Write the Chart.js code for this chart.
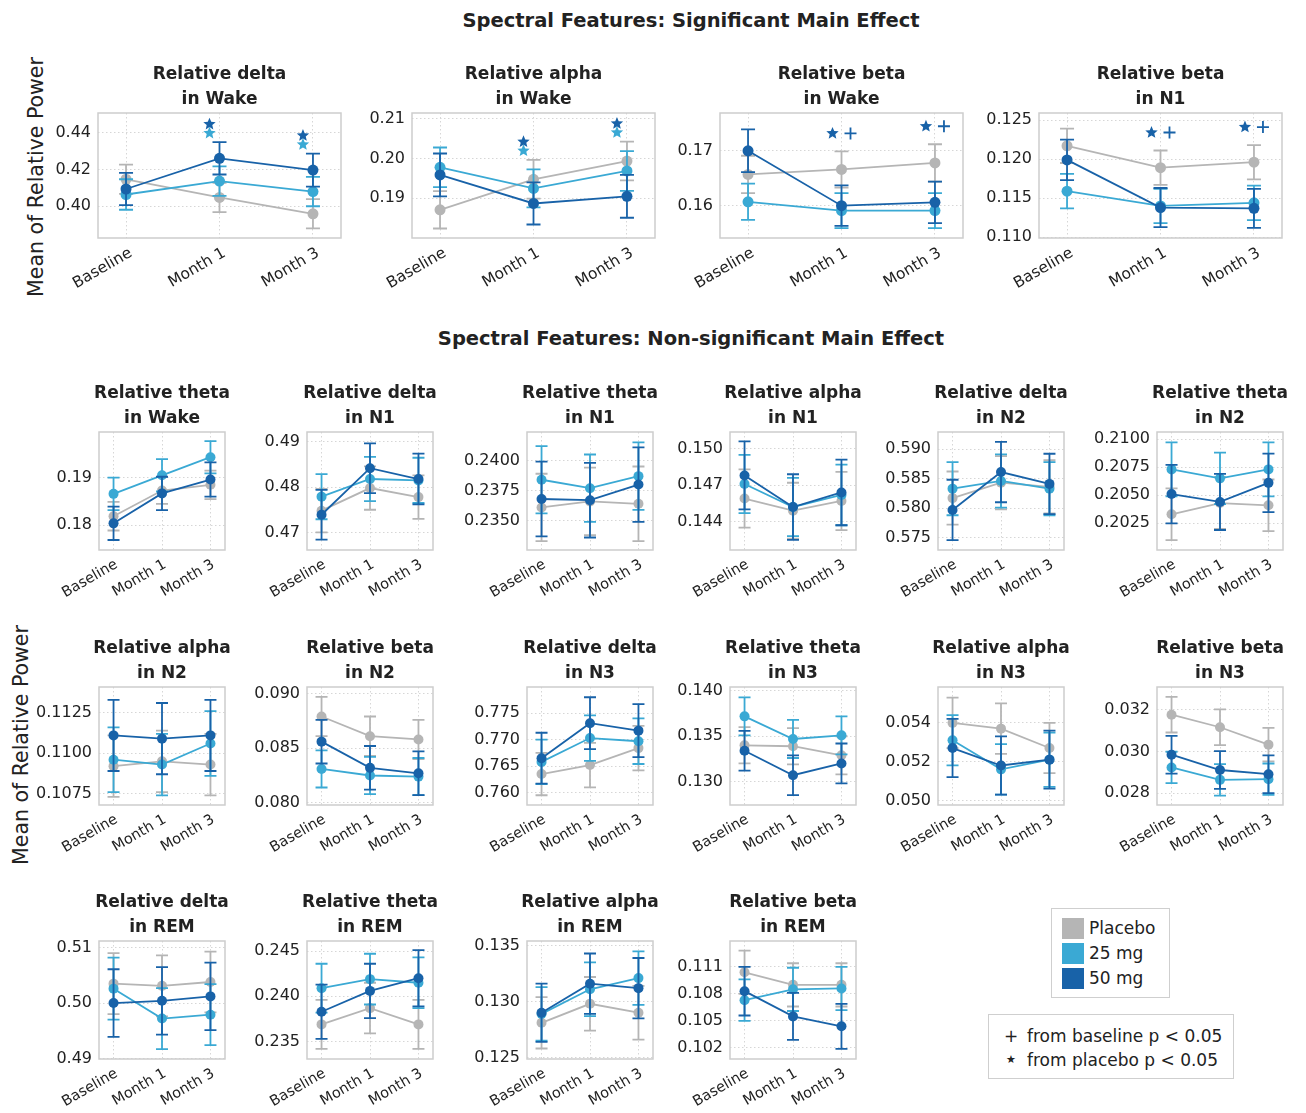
<!DOCTYPE html>
<html>
<head>
<meta charset="utf-8">
<title>Spectral Features</title>
<script src="https://cdn.jsdelivr.net/npm/chart.js@4.4.1/dist/chart.umd.min.js"></script>
<style>
  body { margin: 0; background: #fff; width: 1306px; height: 1113px; position: relative; overflow: hidden;
         font-family: 'DejaVu Sans', sans-serif; color: #222; }
  .heading { position: absolute; font-weight: 700; font-size: 19.5px; white-space: nowrap; transform: translate(-50%, -50%); }
  .ylab { position: absolute; font-size: 20.5px; white-space: nowrap; transform: translate(-50%, -50%) rotate(-90deg); }
  .box { position: absolute; border: 1px solid #cfcfcf; background: #fff; box-sizing: border-box; }
  .row { position: absolute; left: 0; font-size: 17px; white-space: nowrap; line-height: 22px; }
  .sw { position: absolute; width: 22px; height: 21px; }
</style>
</head>
<body>
<div class="heading" style="left:691px;top:20px">Spectral Features: Significant Main Effect</div>
<div class="heading" style="left:691px;top:338px">Spectral Features: Non-significant Main Effect</div>
<div class="ylab" style="left:36px;top:177px">Mean of Relative Power</div>
<div class="ylab" style="left:21px;top:745px">Mean of Relative Power</div>

<script>
// ---- categories and groups ----
const timepoints = ['Baseline', 'Month 1', 'Month 3'];
const groups = ['Placebo', '25 mg', '50 mg'];
const groupColors = ['#b5b5b5', '#3aa9d4', '#1862a8'];

// ---- significant main effect ----
// means / SEM per group (rows: Placebo, 25 mg, 50 mg; columns: Baseline, Month 1, Month 3)
const wakeDeltaMean = [[0.4146, 0.4047, 0.3958], [0.4063, 0.4136, 0.4079], [0.4093, 0.4260, 0.4196]];
const wakeDeltaSem  = [[0.0080, 0.0080, 0.0080], [0.0083, 0.0080, 0.0080], [0.0088, 0.0088, 0.0090]];
const wakeDeltaTicks = ['0.40', '0.42', '0.44'];
const wakeDeltaRange = [0.3826, 0.4507];
const wakeDeltaSig = [[], [[['*', 2]], [['*', 1]]], [[['*', 2]], [['*', 1]]]];

const wakeAlphaMean = [[0.1871, 0.1948, 0.1994], [0.1978, 0.1925, 0.1969], [0.1959, 0.1887, 0.1905]];
const wakeAlphaSem  = [[0.0047, 0.0049, 0.0049], [0.0050, 0.0048, 0.0050], [0.0054, 0.0053, 0.0054]];
const wakeAlphaTicks = ['0.19', '0.20', '0.21'];
const wakeAlphaRange = [0.1800, 0.2115];
const wakeAlphaSig = [[], [[['*', 2]], [['*', 1]]], [[['*', 2]], [['*', 1]]]];

const wakeBetaMean = [[0.1657, 0.1666, 0.1678], [0.1607, 0.1591, 0.1591], [0.1700, 0.1600, 0.1606]];
const wakeBetaSem  = [[0.0034, 0.0033, 0.0034], [0.0033, 0.0032, 0.0032], [0.0039, 0.0037, 0.0038]];
const wakeBetaTicks = ['0.16', '0.17'];
const wakeBetaRange = [0.1541, 0.1769];
const wakeBetaSig = [[], [[['*', 2], ['+', 2]]], [[['*', 2], ['+', 2]]]];

const n1BetaMean = [[0.1217, 0.1189, 0.1196], [0.1159, 0.1140, 0.1144], [0.1199, 0.1138, 0.1137]];
const n1BetaSem  = [[0.0022, 0.0022, 0.0022], [0.0022, 0.0022, 0.0022], [0.0026, 0.0025, 0.0025]];
const n1BetaTicks = ['0.110', '0.115', '0.120', '0.125'];
const n1BetaRange = [0.1099, 0.1259];
const n1BetaSig = [[], [[['*', 2], ['+', 2]]], [[['*', 2], ['+', 2]]]];

// ---- non-significant main effect ----
const wakeThetaMean = [[0.1819, 0.1873, 0.1885], [0.1866, 0.1905, 0.1943], [0.1804, 0.1867, 0.1896]];
const wakeThetaSem  = [[0.0030, 0.0028, 0.0030], [0.0034, 0.0034, 0.0034], [0.0035, 0.0035, 0.0036]];
const wakeThetaTicks = ['0.18', '0.19'];
const wakeThetaRange = [0.1748, 0.1996];

const n1DeltaMean = [[0.4748, 0.4798, 0.4778], [0.4779, 0.4818, 0.4815], [0.4739, 0.4842, 0.4818]];
const n1DeltaSem  = [[0.0048, 0.0048, 0.0048], [0.0050, 0.0049, 0.0050], [0.0055, 0.0055, 0.0056]];
const n1DeltaTicks = ['0.47', '0.48', '0.49'];
const n1DeltaRange = [0.4661, 0.4922];

const n1ThetaMean = [[0.2361, 0.2366, 0.2364], [0.2384, 0.2377, 0.2387], [0.2368, 0.2367, 0.2380]];
const n1ThetaSem  = [[0.0028, 0.0028, 0.0031], [0.0028, 0.0028, 0.0028], [0.0031, 0.0031, 0.0031]];
const n1ThetaTicks = ['0.2350', '0.2375', '0.2400'];
const n1ThetaRange = [0.23256, 0.24237];

const n1AlphaMean = [[0.1459, 0.1449, 0.1457], [0.1471, 0.1452, 0.1462], [0.1478, 0.1452, 0.1464]];
const n1AlphaSem  = [[0.0024, 0.0023, 0.0024], [0.0024, 0.0024, 0.0025], [0.0028, 0.0027, 0.0027]];
const n1AlphaTicks = ['0.144', '0.147', '0.150'];
const n1AlphaRange = [0.14166, 0.15138];

const n2DeltaMean = [[0.5817, 0.5843, 0.5836], [0.5833, 0.5846, 0.5833], [0.5797, 0.5861, 0.5841]];
const n2DeltaSem  = [[0.0045, 0.0045, 0.0045], [0.0045, 0.0045, 0.0045], [0.0051, 0.0051, 0.0051]];
const n2DeltaTicks = ['0.575', '0.580', '0.585', '0.590'];
const n2DeltaRange = [0.57292, 0.59288];

const n2ThetaMean = [[0.2033, 0.2043, 0.2041], [0.2073, 0.2065, 0.2073], [0.2051, 0.2044, 0.2061]];
const n2ThetaSem  = [[0.0023, 0.0023, 0.0023], [0.0024, 0.0023, 0.0024], [0.0026, 0.0025, 0.0026]];
const n2ThetaTicks = ['0.2025', '0.2050', '0.2075', '0.2100'];
const n2ThetaRange = [0.20012, 0.21063];

const n2AlphaMean = [[0.1092, 0.1095, 0.1093], [0.1096, 0.1093, 0.1106], [0.1111, 0.1109, 0.1111]];
const n2AlphaSem  = [[0.0019, 0.0019, 0.0019], [0.0020, 0.0019, 0.0020], [0.0022, 0.0022, 0.0022]];
const n2AlphaTicks = ['0.1075', '0.1100', '0.1125'];
const n2AlphaRange = [0.1068, 0.11409];

const n2BetaMean = [[0.0879, 0.0861, 0.0858], [0.0831, 0.0825, 0.0824], [0.0856, 0.0832, 0.0827]];
const n2BetaSem  = [[0.0018, 0.0018, 0.0018], [0.0017, 0.0017, 0.0017], [0.0020, 0.0020, 0.0020]];
const n2BetaTicks = ['0.080', '0.085', '0.090'];
const n2BetaRange = [0.0798, 0.0906];

const n3DeltaMean = [[0.7635, 0.7652, 0.7684], [0.7658, 0.7703, 0.7697], [0.7665, 0.7731, 0.7717]];
const n3DeltaSem  = [[0.0040, 0.0042, 0.0042], [0.0042, 0.0043, 0.0043], [0.0048, 0.0049, 0.0050]];
const n3DeltaTicks = ['0.760', '0.765', '0.770', '0.775'];
const n3DeltaRange = [0.75766, 0.77994];

const n3ThetaMean = [[0.1340, 0.1339, 0.1329], [0.1372, 0.1347, 0.1351], [0.1334, 0.1307, 0.1320]];
const n3ThetaSem  = [[0.0020, 0.0020, 0.0021], [0.0021, 0.0021, 0.0021], [0.0022, 0.0022, 0.0022]];
const n3ThetaTicks = ['0.130', '0.135', '0.140'];
const n3ThetaRange = [0.12741, 0.14044];

const n3AlphaMean = [[0.0540, 0.0537, 0.0527], [0.0531, 0.0516, 0.0521], [0.0527, 0.0518, 0.0521]];
const n3AlphaSem  = [[0.0013, 0.0013, 0.0013], [0.0013, 0.0013, 0.0014], [0.0015, 0.0015, 0.0015]];
const n3AlphaTicks = ['0.050', '0.052', '0.054'];
const n3AlphaRange = [0.04976, 0.05585];

const n3BetaMean = [[0.03175, 0.03115, 0.03032], [0.02923, 0.02864, 0.02867], [0.02984, 0.02911, 0.02891]];
const n3BetaSem  = [[0.00085, 0.00085, 0.00080], [0.00075, 0.00075, 0.00075], [0.00090, 0.00090, 0.00090]];
const n3BetaTicks = ['0.028', '0.030', '0.032'];
const n3BetaRange = [0.02744, 0.03307];

const remDeltaMean = [[0.5035, 0.5031, 0.5038], [0.5026, 0.4972, 0.4979], [0.5000, 0.5004, 0.5012]];
const remDeltaSem  = [[0.0055, 0.0055, 0.0055], [0.0056, 0.0055, 0.0055], [0.0061, 0.0061, 0.0061]];
const remDeltaTicks = ['0.49', '0.50', '0.51'];
const remDeltaRange = [0.4899, 0.5112];

const remThetaMean = [[0.2369, 0.2387, 0.2369], [0.2409, 0.2419, 0.2415], [0.2383, 0.2406, 0.2420]];
const remThetaSem  = [[0.0027, 0.0028, 0.0027], [0.0027, 0.0028, 0.0028], [0.0030, 0.0030, 0.0031]];
const remThetaTicks = ['0.235', '0.240', '0.245'];
const remThetaRange = [0.23308, 0.24611];

const remAlphaMean = [[0.1281, 0.1298, 0.1290], [0.1289, 0.1311, 0.1321], [0.1290, 0.1316, 0.1312]];
const remAlphaSem  = [[0.0023, 0.0024, 0.0024], [0.0024, 0.0024, 0.0024], [0.0026, 0.0027, 0.0027]];
const remAlphaTicks = ['0.125', '0.130', '0.135'];
const remAlphaRange = [0.12486, 0.13542];

const remBetaMean = [[0.1104, 0.1090, 0.1090], [0.1073, 0.1085, 0.1086], [0.1083, 0.1055, 0.1044]];
const remBetaSem  = [[0.0024, 0.0024, 0.0024], [0.0023, 0.0024, 0.0024], [0.0027, 0.0026, 0.0025]];
const remBetaTicks = ['0.102', '0.105', '0.108', '0.111'];
const remBetaRange = [0.10077, 0.11387];

// ---- panel list ----
const topPanels = [
  { title: ['Relative delta', 'in Wake'], mean: wakeDeltaMean, sem: wakeDeltaSem, ticks: wakeDeltaTicks, range: wakeDeltaRange, sig: wakeDeltaSig },
  { title: ['Relative alpha', 'in Wake'], mean: wakeAlphaMean, sem: wakeAlphaSem, ticks: wakeAlphaTicks, range: wakeAlphaRange, sig: wakeAlphaSig },
  { title: ['Relative beta', 'in Wake'],  mean: wakeBetaMean,  sem: wakeBetaSem,  ticks: wakeBetaTicks,  range: wakeBetaRange,  sig: wakeBetaSig },
  { title: ['Relative beta', 'in N1'],    mean: n1BetaMean,    sem: n1BetaSem,    ticks: n1BetaTicks,    range: n1BetaRange,    sig: n1BetaSig }
];
const gridPanels = [
  { title: ['Relative theta', 'in Wake'], mean: wakeThetaMean, sem: wakeThetaSem, ticks: wakeThetaTicks, range: wakeThetaRange },
  { title: ['Relative delta', 'in N1'],   mean: n1DeltaMean,   sem: n1DeltaSem,   ticks: n1DeltaTicks,   range: n1DeltaRange },
  { title: ['Relative theta', 'in N1'],   mean: n1ThetaMean,   sem: n1ThetaSem,   ticks: n1ThetaTicks,   range: n1ThetaRange },
  { title: ['Relative alpha', 'in N1'],   mean: n1AlphaMean,   sem: n1AlphaSem,   ticks: n1AlphaTicks,   range: n1AlphaRange },
  { title: ['Relative delta', 'in N2'],   mean: n2DeltaMean,   sem: n2DeltaSem,   ticks: n2DeltaTicks,   range: n2DeltaRange },
  { title: ['Relative theta', 'in N2'],   mean: n2ThetaMean,   sem: n2ThetaSem,   ticks: n2ThetaTicks,   range: n2ThetaRange },
  { title: ['Relative alpha', 'in N2'],   mean: n2AlphaMean,   sem: n2AlphaSem,   ticks: n2AlphaTicks,   range: n2AlphaRange },
  { title: ['Relative beta', 'in N2'],    mean: n2BetaMean,    sem: n2BetaSem,    ticks: n2BetaTicks,    range: n2BetaRange },
  { title: ['Relative delta', 'in N3'],   mean: n3DeltaMean,   sem: n3DeltaSem,   ticks: n3DeltaTicks,   range: n3DeltaRange },
  { title: ['Relative theta', 'in N3'],   mean: n3ThetaMean,   sem: n3ThetaSem,   ticks: n3ThetaTicks,   range: n3ThetaRange },
  { title: ['Relative alpha', 'in N3'],   mean: n3AlphaMean,   sem: n3AlphaSem,   ticks: n3AlphaTicks,   range: n3AlphaRange },
  { title: ['Relative beta', 'in N3'],    mean: n3BetaMean,    sem: n3BetaSem,    ticks: n3BetaTicks,    range: n3BetaRange },
  { title: ['Relative delta', 'in REM'],  mean: remDeltaMean,  sem: remDeltaSem,  ticks: remDeltaTicks,  range: remDeltaRange },
  { title: ['Relative theta', 'in REM'],  mean: remThetaMean,  sem: remThetaSem,  ticks: remThetaTicks,  range: remThetaRange },
  { title: ['Relative alpha', 'in REM'],  mean: remAlphaMean,  sem: remAlphaSem,  ticks: remAlphaTicks,  range: remAlphaRange },
  { title: ['Relative beta', 'in REM'],   mean: remBetaMean,   sem: remBetaSem,   ticks: remBetaTicks,   range: remBetaRange }
];

// ---- layout (plot-area positions in page pixels) ----
const topLefts = [98, 412, 720, 1039];
const topTop = 113, topSize = [243, 125];
const gridLefts = [98.5, 306.7, 526.7, 729.7, 938.3, 1157];
const gridTops = [432.3, 686.7, 941];
const gridSize = [126, 117.5];

const FONT = "'DejaVu Sans', sans-serif";
Chart.defaults.font.family = FONT;
Chart.defaults.color = '#222';

// plot frame on all four sides
const framePlugin = {
  id: 'frame',
  beforeDatasetsDraw(chart) {
    const { ctx, chartArea: a } = chart;
    ctx.save();
    ctx.strokeStyle = '#cdcdcd';
    ctx.lineWidth = 1.5;
    ctx.strokeRect(a.left, a.top, a.right - a.left, a.bottom - a.top);
    ctx.restore();
  }
};

// vertical SEM bars with caps, drawn under each group's line
const errorBarPlugin = {
  id: 'errorBars',
  beforeDatasetDraw(chart, args) {
    const ds = chart.data.datasets[args.index];
    const { ctx } = chart;
    const xs = chart.scales.x, ys = chart.scales.y;
    const cap = chart.options.plugins.errorBars.cap;
    ctx.save();
    ctx.strokeStyle = ds.borderColor;
    ctx.lineWidth = 1.8;
    ds.data.forEach((p, i) => {
      const x = xs.getPixelForValue(p.x);
      const yt = ys.getPixelForValue(p.y + ds.sem[i]);
      const yb = ys.getPixelForValue(p.y - ds.sem[i]);
      ctx.beginPath();
      ctx.moveTo(x, yt); ctx.lineTo(x, yb);
      ctx.moveTo(x - cap, yt); ctx.lineTo(x + cap, yt);
      ctx.moveTo(x - cap, yb); ctx.lineTo(x + cap, yb);
      ctx.stroke();
    });
    ctx.restore();
  }
};

// significance markers above the highest bar of a timepoint
function drawStar(ctx, cx, cy, r) {
  ctx.beginPath();
  for (let k = 0; k < 10; k++) {
    const rad = k % 2 === 0 ? r : r * 0.45;
    const ang = -Math.PI / 2 + k * Math.PI / 5;
    const px = cx + rad * Math.cos(ang), py = cy + rad * Math.sin(ang);
    k === 0 ? ctx.moveTo(px, py) : ctx.lineTo(px, py);
  }
  ctx.closePath();
  ctx.fill();
}
const sigPlugin = {
  id: 'sigMarks',
  afterDatasetsDraw(chart) {
    const sig = chart.options.plugins.sigMarks.marks;
    if (!sig) return;
    const { ctx } = chart;
    const xs = chart.scales.x, ys = chart.scales.y;
    const datasets = chart.data.datasets;
    sig.forEach((lines, t) => {
      if (!lines.length) return;
      let top = Infinity;
      datasets.forEach(ds => { top = Math.min(top, ys.getPixelForValue(ds.data[t].y + ds.sem[t])); });
      const x0 = xs.getPixelForValue(t);
      lines.forEach((line, li) => {
        const y = top - 18 + 9 * li;
        line.forEach(([sym, g], si) => {
          const x = line.length === 1 ? x0 - 10 : x0 - 9 + 18 * si;
          ctx.save();
          ctx.fillStyle = groupColors[g];
          ctx.strokeStyle = groupColors[g];
          if (sym === '*') {
            drawStar(ctx, x, y, 6.5);
          } else {
            ctx.lineWidth = 1.8;
            ctx.beginPath();
            ctx.moveTo(x - 6, y); ctx.lineTo(x + 6, y);
            ctx.moveTo(x, y - 6); ctx.lineTo(x, y + 6);
            ctx.stroke();
          }
          ctx.restore();
        });
      });
    });
  }
};

function makePanel(p, left, top, size, big) {
  const YW = big ? 92 : 82, XH = big ? 72 : 62, TH = 54;
  const [w, h] = size;
  const W = Math.round(w + 2 * YW), H = Math.round(TH + h + XH);
  const cv = document.createElement('canvas');
  cv.width = W; cv.height = H;
  cv.style.cssText = `position:absolute;left:${left - YW}px;top:${top - TH}px;width:${W}px;height:${H}px`;
  document.body.appendChild(cv);
  const tickVals = p.ticks.map(Number);
  const grid = { color: '#d6d6d6', lineWidth: 1, drawTicks: false };
  const border = { display: false, dash: [1.5, 2.5] };
  new Chart(cv, {
    type: 'line',
    data: {
      datasets: groups.map((g, gi) => ({
        label: g,
        data: p.mean[gi].map((v, i) => ({ x: i, y: v })),
        sem: p.sem[gi],
        borderColor: groupColors[gi],
        backgroundColor: groupColors[gi],
        pointBackgroundColor: groupColors[gi],
        pointBorderWidth: 0,
        pointRadius: big ? 5.5 : 5,
        borderWidth: 1.8,
        tension: 0,
        order: 3 - gi
      }))
    },
    options: {
      responsive: false,
      animation: false,
      events: [],
      layout: { padding: 0 },
      plugins: {
        legend: { display: false },
        tooltip: { enabled: false },
        title: {
          display: true, text: p.title, color: '#222',
          font: { family: FONT, size: 17, weight: 'bold', lineHeight: '25px' },
          padding: { top: 3, bottom: 1 }
        },
        errorBars: { cap: big ? 7 : 6 },
        sigMarks: { marks: p.sig || null }
      },
      scales: {
        x: {
          type: 'linear', min: -0.3, max: 2.3,
          afterBuildTicks: s => { s.ticks = timepoints.map((_, i) => ({ value: i })); },
          afterFit: s => { s.height = XH; },
          grid, border,
          ticks: {
            autoSkip: false, minRotation: 30, maxRotation: 30, padding: 6, color: '#222',
            labelOffset: big ? 5 : 3,
            font: { size: big ? 15.5 : 14.5 },
            callback: v => timepoints[Math.round(v)]
          }
        },
        y: {
          min: p.range[0], max: p.range[1],
          afterBuildTicks: s => { s.ticks = tickVals.map(v => ({ value: v })); },
          afterFit: s => { s.width = YW; },
          grid, border,
          ticks: {
            padding: 7, color: '#222',
            font: { size: 16 },
            callback: v => {
              let best = 0;
              tickVals.forEach((t, i) => { if (Math.abs(t - v) < Math.abs(tickVals[best] - v)) best = i; });
              return p.ticks[best];
            }
          }
        },
        // empty right-hand axis keeps the plot centred under its title
        yr: {
          type: 'linear', position: 'right', min: 0, max: 1,
          afterFit: s => { s.width = YW; },
          grid: { display: false }, border: { display: false }, ticks: { display: false }
        }
      }
    },
    plugins: [framePlugin, errorBarPlugin, sigPlugin]
  });
}

topPanels.forEach((p, i) => makePanel(p, topLefts[i], topTop, topSize, true));
gridPanels.forEach((p, i) => makePanel(p, gridLefts[i % 6], gridTops[Math.floor(i / 6)], gridSize, false));

// ---- legends ----
const groupBox = document.createElement('div');
groupBox.className = 'box';
groupBox.style.cssText = 'left:1051px;top:908px;width:119px;height:90px';
groups.forEach((g, i) => {
  const sw = document.createElement('div');
  sw.className = 'sw';
  sw.style.cssText = `left:10px;top:${9 + i * 25}px;background:${groupColors[i]}`;
  const tx = document.createElement('div');
  tx.className = 'row';
  tx.style.cssText = `left:37px;top:${8 + i * 25}px`;
  tx.textContent = g;
  groupBox.appendChild(sw);
  groupBox.appendChild(tx);
});
document.body.appendChild(groupBox);

const sigLegend = [['+', 'from baseline p < 0.05'], ['\u2605', 'from placebo p < 0.05']];
const sigBox = document.createElement('div');
sigBox.className = 'box';
sigBox.style.cssText = 'left:988px;top:1014px;width:246px;height:65px';
sigLegend.forEach(([sym, txt], i) => {
  const s = document.createElement('div');
  s.className = 'row';
  s.style.cssText = `left:15px;top:${10 + i * 24}px;width:14px;text-align:center;font-size:${sym === '+' ? 17 : 11}px`;
  s.textContent = sym;
  const t = document.createElement('div');
  t.className = 'row';
  t.style.cssText = `left:38px;top:${10 + i * 24}px`;
  t.textContent = txt;
  sigBox.appendChild(s);
  sigBox.appendChild(t);
});
document.body.appendChild(sigBox);
</script>
</body>
</html>
